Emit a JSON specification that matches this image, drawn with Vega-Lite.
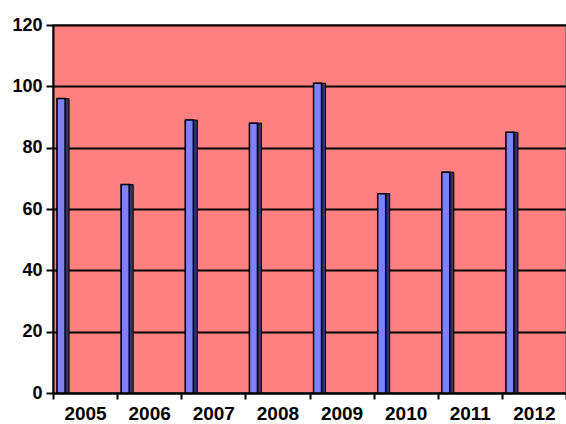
{
  "$schema": "https://vega.github.io/schema/vega-lite/v6.json",
  "width": 513,
  "height": 368,
  "autosize": {"type": "none"},
  "padding": {"left": 53, "top": 25, "right": 0, "bottom": 31},
  "background": "#ffffff",
  "config": {
    "font": "Liberation Sans",
    "view": {"fill": "#FF8080", "stroke": "#808080", "strokeWidth": 2}
  },
  "data": {
    "values": [
      {"year": "2005", "value": 96},
      {"year": "2006", "value": 68},
      {"year": "2007", "value": 89},
      {"year": "2008", "value": 88},
      {"year": "2009", "value": 101},
      {"year": "2010", "value": 65},
      {"year": "2011", "value": 72},
      {"year": "2012", "value": 85}
    ]
  },
  "encoding": {
    "x": {
      "field": "year",
      "type": "nominal",
      "scale": {"paddingInner": 0, "paddingOuter": 0},
      "axis": {
        "title": null,
        "labelAngle": 0,
        "labelFont": "Liberation Sans",
        "labelFontWeight": "bold",
        "labelFontSize": 19,
        "labelColor": "#000000",
        "labelPadding": 5,
        "domainColor": "#000000",
        "domainWidth": 2,
        "tickColor": "#000000",
        "tickWidth": 2,
        "tickSize": 6,
        "tickBand": "extent",
        "grid": false
      }
    },
    "y": {
      "field": "value",
      "type": "quantitative",
      "scale": {"domain": [0, 120], "nice": false},
      "axis": {
        "title": null,
        "values": [0, 20, 40, 60, 80, 100, 120],
        "labelFont": "Liberation Sans",
        "labelFontWeight": "bold",
        "labelFontSize": 18,
        "labelColor": "#000000",
        "labelPadding": 4,
        "domainColor": "#000000",
        "domainWidth": 2,
        "tickColor": "#000000",
        "tickWidth": 2,
        "tickSize": 7,
        "grid": true,
        "gridColor": "#000000",
        "gridWidth": 2
      }
    }
  },
  "layer": [
    {
      "mark": {"type": "bar", "width": 12, "xOffset": -22, "color": "#333366", "stroke": "#000000", "strokeWidth": 1}
    },
    {
      "mark": {"type": "bar", "width": 8, "xOffset": -24, "color": "#8080FF", "stroke": "#000000", "strokeWidth": 1.5}
    }
  ]
}
